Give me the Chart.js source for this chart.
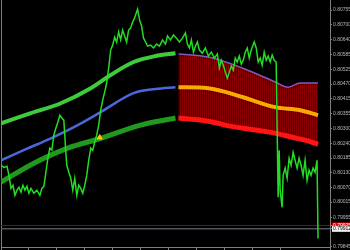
<!DOCTYPE html>
<html>
<head>
<meta charset="utf-8">
<script src="https://cdn.jsdelivr.net/npm/chart.js@4.4.0/dist/chart.umd.min.js"></script>
<style>
html,body{margin:0;padding:0;background:#000;}
canvas{display:block;}
</style>
</head>
<body>
<canvas id="chart" width="350" height="250"></canvas>
<script>
// price axis range and labels (right side)
var yMin = 0.79842, yMax = 0.80794;
var tickVals = [0.80755,0.80700,0.80640,0.80585,0.80525,0.80470,0.80415,0.80355,
                0.80300,0.80240,0.80185,0.80130,0.80070,0.80015,0.79955,0.79845];
var askLevel = 0.79925, bidLevel = 0.79912;

// close prices by bar
var priceBar = [0,3,6,8,10,12,14,16,18,20,
  22,24,26,28,30,33,36,39,41,43,
  45,47,49,51,53,55,57,59,61,63,
  64,65,66,68,70,72,74,76,78,80,
  82,84,86,88,90,92,94,96,98,100,
  102,104,106,108,110,112,114,116,118,120,
  122,124,126,128,130,132,134,136,137,139,
  141,143,145,147,150,153,156,159,162,165,
  167,170,173,176,179,182,185,187,189,191,
  193,195,197,199,202,205,208,211,214,217,
  219,221,223,225,227,229,231,233,235,237,
  239,241,243,245,247,249,251,254,256,258,
  260,262,264,266,268,270,272,274,276,278,
  279,280,282,283,285,287,289,291,293,295,
  297,299,301,303,305,307,309,311,313,315,
  317,318];
var priceVal = [0.80157,0.80149,0.80153,0.80118,0.80068,0.80080,0.80041,0.80061,0.80072,0.80053,
  0.80080,0.80061,0.80076,0.80049,0.80068,0.80049,0.80061,0.80041,0.80068,0.80076,
  0.80130,0.80184,0.80223,0.80215,0.80273,0.80300,0.80323,0.80350,0.80339,0.80331,
  0.80273,0.80207,0.80157,0.80130,0.80107,0.80061,0.80107,0.80041,0.80080,0.80068,
  0.80049,0.80080,0.80118,0.80176,0.80223,0.80215,0.80246,0.80273,0.80312,0.80369,
  0.80408,0.80439,0.80474,0.80532,0.80601,0.80620,0.80651,0.80632,0.80671,0.80640,
  0.80678,0.80655,0.80632,0.80678,0.80686,0.80709,0.80725,0.80748,0.80759,0.80717,
  0.80694,0.80647,0.80632,0.80616,0.80620,0.80609,0.80624,0.80616,0.80640,0.80624,
  0.80655,0.80640,0.80659,0.80647,0.80632,0.80647,0.80667,0.80624,0.80609,0.80640,
  0.80593,0.80616,0.80632,0.80601,0.80589,0.80609,0.80578,0.80593,0.80570,0.80586,
  0.80532,0.80562,0.80543,0.80516,0.80493,0.80516,0.80539,0.80524,0.80570,0.80555,
  0.80578,0.80547,0.80562,0.80593,0.80609,0.80570,0.80601,0.80632,0.80609,0.80555,
  0.80570,0.80543,0.80593,0.80562,0.80578,0.80555,0.80582,0.80562,0.80555,0.80034,
  0.80215,0.80061,0.79995,0.80118,0.80146,0.80107,0.80184,0.80157,0.80207,0.80176,
  0.80146,0.80184,0.80157,0.80118,0.80176,0.80099,0.80138,0.80118,0.80146,0.80130,
  0.80176,0.79875];

// band lines: history part and projected part
var upperBar = [0,30,60,90,110,133,155,175];
var upperVal = [0.80319,0.80358,0.80396,0.80454,0.80505,0.80555,0.80578,0.80589];
var upperFwdBar = [178,208,242,275,288,300,318];
var upperFwdVal = [0.80586,0.80574,0.80532,0.80478,0.80458,0.80474,0.80474];
var midBar = [0,25,50,77,100,133,155,175];
var midVal = [0.80176,0.80219,0.80261,0.80312,0.80362,0.80435,0.80451,0.80458];
var midFwdBar = [178,208,242,275,300,318];
var midFwdVal = [0.80458,0.80454,0.80420,0.80381,0.80369,0.80350];
var lowerBar = [0,33,67,100,140,175];
var lowerVal = [0.80092,0.80165,0.80223,0.80261,0.80312,0.80339];
var lowerFwdBar = [178,208,230,275,292,305,318];
var lowerFwdVal = [0.80339,0.80327,0.80308,0.80281,0.80265,0.80254,0.80238];

var arrowBar = [99], arrowVal = [0.80264];

function pts(xs, ys){ return xs.map(function(x,i){ return {x:x, y:ys[i]}; }); }

var cv = document.getElementById("chart");
var ctx = cv.getContext("2d");

// striped dark red for the histogram between bands
var stripe = document.createElement("canvas");
stripe.width = 2; stripe.height = 1;
var sc = stripe.getContext("2d");
sc.fillStyle = "#8a0000"; sc.fillRect(0,0,1,1);
sc.fillStyle = "#400000"; sc.fillRect(1,0,1,1);
var histPattern = ctx.createPattern(stripe, "repeat");

function band(data, color, width, order){
  return {type:'line', data:data, borderColor:color, borderWidth:width, pointRadius:0,
          cubicInterpolationMode:'monotone', fill:false, order:order, yAxisID:'y'};
}

var datasets = [
  {type:'line', data:pts(priceBar, priceVal), borderColor:'#22dd22', borderWidth:1.5,
   pointRadius:0, tension:0, fill:false, order:0, yAxisID:'y'},
  {type:'line', data:pts(arrowBar, arrowVal), showLine:false, pointStyle:'triangle',
   pointRadius:3, pointBackgroundColor:'#ffc000', pointBorderColor:'#ffc000', order:-1, yAxisID:'y'},
  band(pts(upperBar, upperVal), '#3ccc3c', 4, 1),
  band(pts(midBar, midVal), '#4a68d8', 2.5, 1),
  band(pts(lowerBar, lowerVal), '#1f9a1f', 5, 1),
  band(pts(midFwdBar, midFwdVal), '#f5ac00', 4, 1),
  band(pts(lowerFwdBar, lowerFwdVal), '#ff1414', 5, 1),
  band(pts(upperFwdBar, upperFwdVal), '#7a5cc0', 1.5, 3),
  {type:'line', data:pts([0,330],[askLevel,askLevel]), borderColor:'#a00000', borderWidth:1,
   pointRadius:0, order:4, yAxisID:'y'},
  {type:'line', data:pts([0,330],[bidLevel,bidLevel]), borderColor:'#4e525c', borderWidth:1.5,
   pointRadius:0, order:4, yAxisID:'y'}
];
// histogram = fill from upper projected band down to lower projected band
datasets[7].fill = {target: 6};
datasets[7].backgroundColor = histPattern;

function isAsk(v){ return Math.abs(v - askLevel) < 1e-7; }
function isBid(v){ return Math.abs(v - bidLevel) < 1e-7; }
function noPad(s){ s.paddingTop = 0; s.paddingBottom = 0; s.paddingLeft = 0; s.paddingRight = 0; }

new Chart(cv, {
  data: {datasets: datasets},
  options: {
    responsive:false, animation:false, devicePixelRatio:1,
    layout:{padding:0, autoPadding:false},
    plugins:{legend:{display:false}, tooltip:{enabled:false}},
    scales:{
      x:{type:'linear', min:0, max:330,
         afterFit:function(s){ s.height = 3; noPad(s); },
         ticks:{display:false, stepSize:28, maxTicksLimit:20},
         grid:{drawOnChartArea:false, color:'#808080', tickLength:3},
         border:{color:'#808080'}},
      y:{type:'linear', position:'right', min:yMin, max:yMax,
         afterBuildTicks:function(s){
           s.ticks = tickVals.concat([askLevel, bidLevel]).map(function(v){ return {value:v}; });
         },
         afterFit:function(s){ s.width = 20; noPad(s); },
         grid:{drawOnChartArea:false, color:'#808080', tickLength:2},
         border:{color:'#808080'},
         ticks:{autoSkip:false, padding:1,
           font:{family:'Liberation Sans', size:5},
           color:function(c){ return isBid(c.tick.value) ? '#000' : (isAsk(c.tick.value) ? '#fff' : '#b8b8b8'); },
           showLabelBackdrop:function(c){ return isAsk(c.tick.value) || isBid(c.tick.value); },
           backdropColor:function(c){ return isAsk(c.tick.value) ? '#e00000' : '#f0f0f0'; },
           backdropPadding:{top:0, bottom:0, left:1, right:3},
           callback:function(v){ return Number(v).toFixed(5); }}},
      yl:{type:'linear', position:'left', min:yMin, max:yMax,
          afterFit:function(s){ s.width = 1; noPad(s); },
          ticks:{display:false},
          grid:{display:false, drawTicks:false},
          border:{color:'#808080'}}
    }
  }
});
</script>
</body>
</html>
